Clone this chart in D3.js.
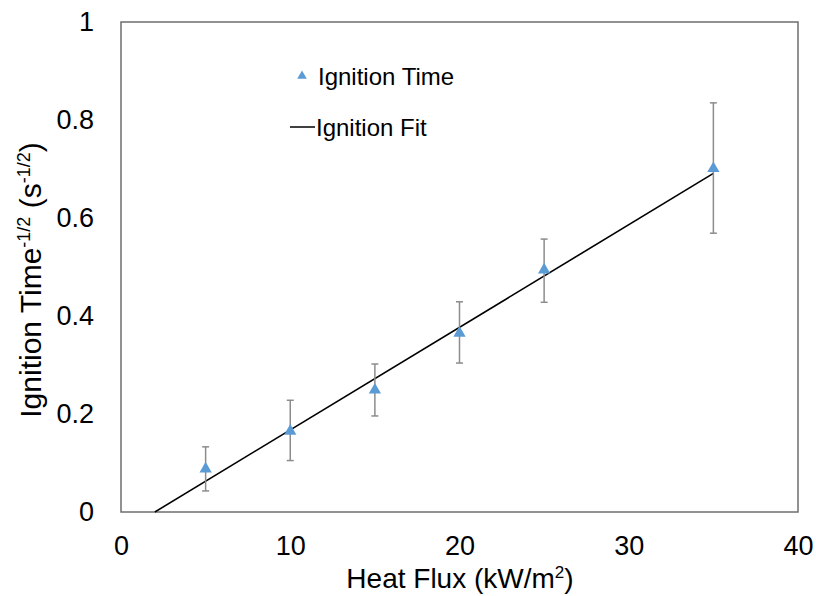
<!DOCTYPE html>
<html><head><meta charset="utf-8">
<script src="https://cdn.jsdelivr.net/npm/d3@7"></script>
<style>body{margin:0;background:#fff}svg{font-family:"Liberation Sans",Arial,sans-serif}</style>
</head><body>
<svg id="c" width="816" height="596"></svg>
<script>
const heatFlux = [5, 10, 15, 20, 25, 35];
const ignInvSqrt = [0.088, 0.165, 0.249, 0.365, 0.494, 0.701];
const errLow = [0.043, 0.105, 0.196, 0.304, 0.428, 0.569];
const errHigh = [0.133, 0.228, 0.302, 0.429, 0.557, 0.835];
const fitX = [2, 35];
const fitY = [0, 0.691];
const xTicks = [0, 10, 20, 30, 40];
const yTicks = [0, 0.2, 0.4, 0.6, 0.8, 1];

const svg = d3.select("#c");
const L = 121, R = 798, T = 22, B = 512;
const x = d3.scaleLinear().domain([0, 40]).range([L, R]);
const y = d3.scaleLinear().domain([0, 1]).range([B, T]);

svg.append("rect").attr("x", L).attr("y", T).attr("width", R - L).attr("height", B - T)
  .attr("fill", "none").attr("stroke", "#6e6e6e").attr("stroke-width", 1.5);

const xa = svg.append("g").attr("transform", `translate(0,${B})`)
  .call(d3.axisBottom(x).tickValues(xTicks).tickSize(0).tickPadding(24).tickFormat(d3.format("d")));
xa.select(".domain").remove();
xa.selectAll("text").attr("font-size", 27).attr("fill", "#000").attr("font-family", "Liberation Sans, Arial, sans-serif");

const ya = svg.append("g").attr("transform", `translate(${L},0)`)
  .call(d3.axisLeft(y).tickValues(yTicks).tickSize(0).tickPadding(27).tickFormat(d => d === 0 || d === 1 ? d : d3.format(".1f")(d)));
ya.select(".domain").remove();
ya.selectAll("text").attr("font-size", 27).attr("fill", "#000").attr("font-family", "Liberation Sans, Arial, sans-serif");

// fit line
svg.append("path").datum(fitX.map((v, i) => [v, fitY[i]]))
  .attr("d", d3.line().x(d => x(d[0])).y(d => y(d[1])))
  .attr("stroke", "#000").attr("stroke-width", 1.6).attr("fill", "none");

// error bars
const eb = svg.append("g").attr("stroke", "#8c8c8c").attr("stroke-width", 1.5);
heatFlux.forEach((h, i) => {
  eb.append("line").attr("x1", x(h)).attr("x2", x(h)).attr("y1", y(errLow[i])).attr("y2", y(errHigh[i]));
  eb.append("line").attr("x1", x(h) - 3.5).attr("x2", x(h) + 3.5).attr("y1", y(errLow[i])).attr("y2", y(errLow[i]));
  eb.append("line").attr("x1", x(h) - 3.5).attr("x2", x(h) + 3.5).attr("y1", y(errHigh[i])).attr("y2", y(errHigh[i]));
});

const tri = d3.symbol().type(d3.symbolTriangle).size(65);
svg.append("g").selectAll("path").data(heatFlux).join("path")
  .attr("d", tri).attr("transform", (d, i) => `translate(${x(d)},${y(ignInvSqrt[i])})`)
  .attr("fill", "#5b9bd5");

// legend
svg.append("path").attr("d", d3.symbol().type(d3.symbolTriangle).size(40))
  .attr("transform", "translate(302,76)").attr("fill", "#5b9bd5");
svg.append("text").attr("x", 318).attr("y", 85).attr("font-size", 24).text("Ignition Time");
svg.append("line").attr("x1", 290).attr("x2", 315).attr("y1", 127).attr("y2", 127).attr("stroke", "#000").attr("stroke-width", 1.5);
svg.append("text").attr("x", 316).attr("y", 136).attr("font-size", 24).text("Ignition Fit");

// axis titles
const xt = svg.append("text").attr("x", 460).attr("y", 588).attr("text-anchor", "middle").attr("font-size", 28);
xt.append("tspan").text("Heat Flux (kW/m");
xt.append("tspan").attr("font-size", 17).attr("dy", -10).text("2");
xt.append("tspan").attr("dy", 10).text(")");

const yt = svg.append("text").attr("transform", "translate(41,280) rotate(-90)").attr("text-anchor", "middle").attr("font-size", 30);
yt.append("tspan").text("Ignition Time");
yt.append("tspan").attr("font-size", 18).attr("dy", -11).text("-1/2");
yt.append("tspan").attr("dy", 11).text(" (s");
yt.append("tspan").attr("font-size", 18).attr("dy", -11).text("-1/2");
yt.append("tspan").attr("dy", 11).text(")");
</script>
</body></html>
